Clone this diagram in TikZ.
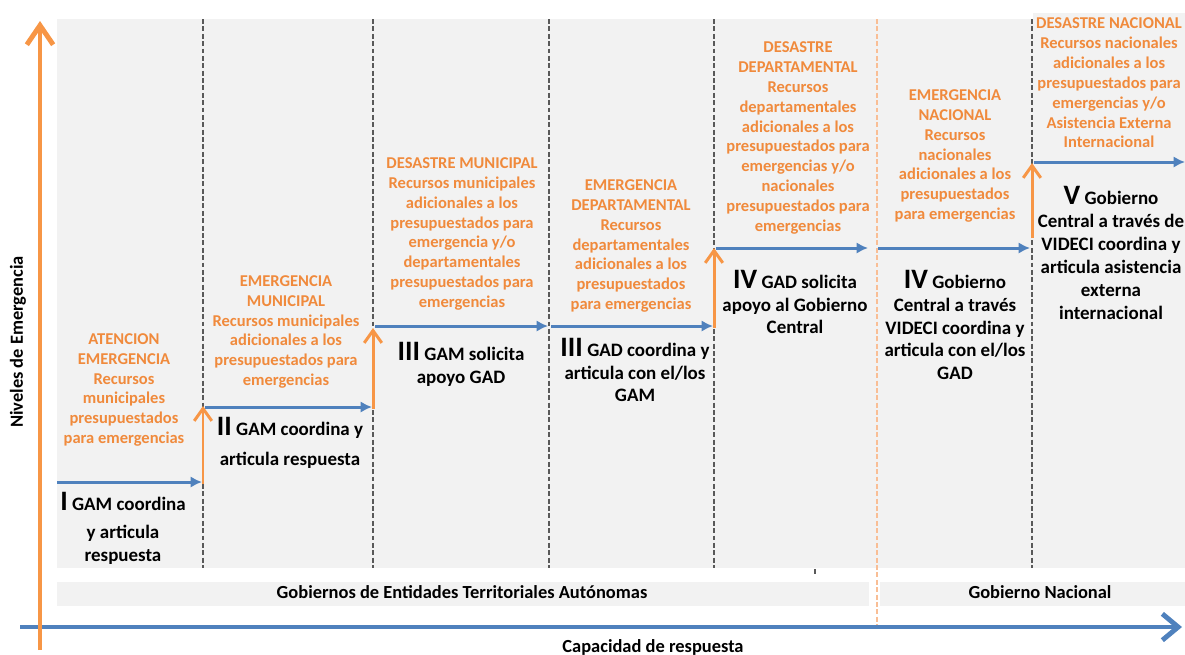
\documentclass[tikz,border=0pt]{standalone}
\usepackage{fontspec}
\setmainfont{Carlito}
\usepackage{tikz}
\usetikzlibrary{arrows.meta}

\definecolor{EjeAzul}{HTML}{4F81BD}
\definecolor{EjeNaranja}{HTML}{F79646}
\definecolor{NivelTexto}{HTML}{F08A3C}
\definecolor{Fondo}{HTML}{F2F2F2}
\definecolor{SepNaranja}{HTML}{F9BE95}

\newcommand{\nivelnum}[1]{{\fontsize{16}{13}\selectfont #1}}

\begin{document}
\begin{tikzpicture}[
  x=0.02cm, y=-0.02cm,
  every node/.style={inner sep=0pt},
  nivel/.style={align=center, text=NivelTexto, font=\fontsize{9.4}{11.3}\selectfont\bfseries},
  respuesta/.style={align=center, font=\fontsize{10.8}{13}\selectfont\bfseries},
  etiqueta/.style={font=\fontsize{10.5}{12}\selectfont\bfseries},
  stepright/.style={-{Latex[length=6.5pt,width=6.5pt]}, line width=1.7pt, EjeAzul},
  stepup/.style={-{Straight Barb[length=7pt,width=10pt]}, line width=1.7pt, EjeNaranja},
  separador/.style={dash pattern=on 2.8pt off 1.4pt, line width=0.8pt, black!65}
]
  \useasboundingbox (0,0) rectangle (1185,654);

  % Background
  \fill[Fondo] (57,19) rectangle (1185,568);
  \fill[Fondo] (1033,13) rectangle (1185,568);
  \fill[Fondo] (57,582) rectangle (869,606);
  \fill[Fondo] (880,582) rectangle (1185,606);

  % Separators
  \foreach \x in {203, 373, 549, 714, 1032} {
    \draw[separador] (\x,19) -- (\x,568);
  }
  \draw[separador, SepNaranja, line width=1pt] (877,19) -- (877,627);
  \draw[black!65, line width=0.8pt] (815,569) -- (815,574);

  % Levels
  \node[nivel] (n1) at (124,390) {ATENCION\\EMERGENCIA\\Recursos\\municipales\\presupuestados\\para emergencias};
  \node[nivel] (n2) at (286,332) {EMERGENCIA\\MUNICIPAL\\Recursos municipales\\adicionales a los\\presupuestados para\\emergencias};
  \node[nivel] (n3) at (462,234) {DESASTRE MUNICIPAL\\Recursos municipales\\adicionales a los\\presupuestados para\\emergencia y/o\\departamentales\\presupuestados para\\emergencias};
  \node[nivel] (n4) at (631,246) {EMERGENCIA\\DEPARTAMENTAL\\Recursos\\departamentales\\adicionales a los\\presupuestados\\para emergencias};
  \node[nivel] (n5) at (798,138) {DESASTRE\\DEPARTAMENTAL\\Recursos\\departamentales\\adicionales a los\\presupuestados para\\emergencias y/o\\nacionales\\presupuestados para\\emergencias};
  \node[nivel] (n6) at (955,156) {EMERGENCIA\\NACIONAL\\Recursos\\nacionales\\adicionales a los\\presupuestados\\para emergencias};
  \node[nivel] (n7) at (1109,83) {DESASTRE NACIONAL\\Recursos nacionales\\adicionales a los\\presupuestados para\\emergencias y/o\\Asistencia Externa\\Internacional};

  % Responses
  \node[respuesta] (r1) at (123,528) {\nivelnum{I} GAM coordina\\[3pt]y articula\\respuesta};
  \node[respuesta] (r2) at (290,443) {\nivelnum{II} GAM coordina y\\[4pt]articula respuesta};
  \node[respuesta] (r3) at (461,364) {\nivelnum{III} GAM solicita\\apoyo GAD};
  \node[respuesta] (r4) at (635,370) {\nivelnum{III} GAD coordina y\\articula con el/los\\GAM};
  \node[respuesta] (r5) at (795,302) {\nivelnum{IV} GAD solicita\\apoyo al Gobierno\\Central};
  \node[respuesta] (r6) at (955,325) {\nivelnum{IV} Gobierno\\Central a través\\VIDECI coordina y\\articula con el/los\\GAD};
  \node[respuesta] (r7) at (1111,253) {\nivelnum{V} Gobierno\\Central a través de\\VIDECI coordina y\\articula asistencia\\externa\\internacional};

  % Steps
  \foreach \i/\xa/\xb/\y in {1/57/202/482, 2/205/372/407, 3/375/548/326, 4/551/713/326,
                             5/716/868/248, 6/878/1030/248, 7/1034/1185/162} {
    \coordinate (ha\i) at (\xa,\y);
    \coordinate (hb\i) at (\xb,\y);
    \draw[stepright] (ha\i) -- (hb\i);
  }
  \foreach \i/\x/\ya/\yb in {1/203/484/406, 2/373/409/328, 3/714/328/248, 4/1032/238/163} {
    \coordinate (va\i) at (\x,\ya);
    \coordinate (vb\i) at (\x,\yb);
    \draw[stepup] (va\i) -- (vb\i);
  }

  % Bands
  \node[etiqueta] (eta) at (462,592) {Gobiernos de Entidades Territoriales Autónomas};
  \node[etiqueta] (gn) at (1040,592) {Gobierno Nacional};

  % Axes
  \coordinate (xo) at (20,627);
  \coordinate (xe) at (1182,627);
  \coordinate (yo) at (40,650);
  \coordinate (ye) at (40,21);
  \draw[EjeAzul, line width=2.8pt, -{Straight Barb[length=9pt,width=15pt]}] (xo) -- (xe);
  \draw[EjeNaranja, line width=2.8pt, -{Straight Barb[length=11pt,width=15pt]}] (yo) -- (ye);
  \node[etiqueta] (cap) at (653,647) {Capacidad de respuesta};
  \node[etiqueta, rotate=90] (niv) at (18,342) {Niveles de Emergencia};
\end{tikzpicture}
\end{document}
